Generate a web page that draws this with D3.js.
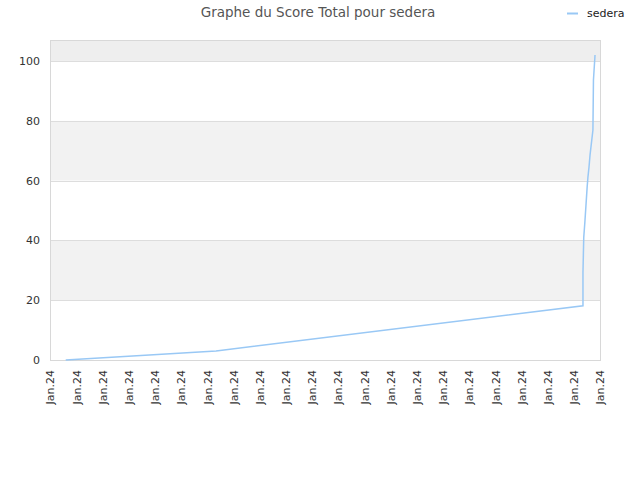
<!DOCTYPE html>
<html><head><meta charset="utf-8">
<script src="https://cdn.jsdelivr.net/npm/d3@7"></script>
<style>body{margin:0;background:#fff;}svg{display:block;font-family:"DejaVu Sans",sans-serif;}</style>
</head><body>
<script>
const title = "Graphe du Score Total pour sedera";
const seriesName = "sedera";
const tickLabels = Array.from({length:22}, () => "Jan.24");
const xValues = [0.6, 6.34, 20.35, 20.35, 20.38, 20.42, 20.47, 20.51, 20.54, 20.58, 20.62, 20.73, 20.75, 20.81];
const yValues = [0, 3.0, 18.1, 29.4, 41.1, 45.8, 52.5, 57.9, 61.2, 64.5, 68.6, 76.9, 93.6, 102.0];
const yTicks = [0, 20, 40, 60, 80, 100];

const W = 640, H = 480;
const m = {left:50, right:40, top:40, bottom:120};
const svg = d3.select("body").append("svg").attr("width", W).attr("height", H);

const x = d3.scaleLinear().domain([0, tickLabels.length - 1]).range([m.left, W - m.right]);
const y = d3.scaleLinear().domain([0, 107]).range([H - m.bottom, m.top]);

// bands
const bandEdges = [0, 20, 40, 60, 80, 100, 107];
for (let i = 0; i < bandEdges.length - 1; i++) {
  let fill = "#ffffff";
  if (i === 5) fill = "#eeeeee";
  else if (i % 2 === 1) fill = "#f2f2f2";
  svg.append("rect").attr("x", x(0)).attr("width", x(21) - x(0))
    .attr("y", y(bandEdges[i+1])).attr("height", y(bandEdges[i]) - y(bandEdges[i+1]))
    .attr("fill", fill);
}
// grid lines
svg.append("g").selectAll("line").data(yTicks.slice(1)).join("line")
  .attr("x1", x(0)).attr("x2", x(21)).attr("y1", d => Math.round(y(d)) + 0.5).attr("y2", d => Math.round(y(d)) + 0.5)
  .attr("stroke", "#dddddd");
// frame
svg.append("rect").attr("x", x(0) + 0.5).attr("y", y(107) + 0.5)
  .attr("width", x(21) - x(0)).attr("height", y(0) - y(107))
  .attr("fill", "none").attr("stroke", "#d8d8d8");

// y axis
const ya = svg.append("g").attr("transform", `translate(${x(0)},0)`)
  .call(d3.axisLeft(y).tickValues(yTicks).tickSize(0).tickPadding(10));
ya.select(".domain").remove();
ya.selectAll("text").attr("fill", "#333").style("font-size", "11px").style("font-family", "DejaVu Sans, sans-serif");

// x axis
const xa = svg.append("g").attr("transform", `translate(0,${y(0)})`)
  .call(d3.axisBottom(x).tickValues(d3.range(tickLabels.length)).tickFormat((d,i) => tickLabels[i]).tickSize(0));
xa.select(".domain").remove();
xa.selectAll("text").attr("fill", "#333").style("font-size", "11px").style("font-family", "DejaVu Sans, sans-serif")
  .attr("text-anchor", "end").attr("transform", "rotate(-90)").attr("x", -10).attr("y", 0).attr("dy", "0.35em");

// line
const pts = xValues.map((v,i) => [v, yValues[i]]);
svg.append("path").datum(pts)
  .attr("d", d3.line().x(d => x(d[0])).y(d => y(d[1])))
  .attr("fill", "none").attr("stroke", "#99c8f5").attr("stroke-width", 1.5);

// title
svg.append("text").attr("x", 318).attr("y", 17).attr("text-anchor", "middle")
  .attr("fill", "#555").style("font-size", "13.5px").text(title);

// legend
svg.append("line").attr("x1", 567).attr("x2", 578).attr("y1", 13.5).attr("y2", 13.5)
  .attr("stroke", "#99c8f5").attr("stroke-width", 2);
svg.append("text").attr("x", 587).attr("y", 17).attr("fill", "#222").style("font-size", "11px").text(seriesName);
</script>
</body></html>
